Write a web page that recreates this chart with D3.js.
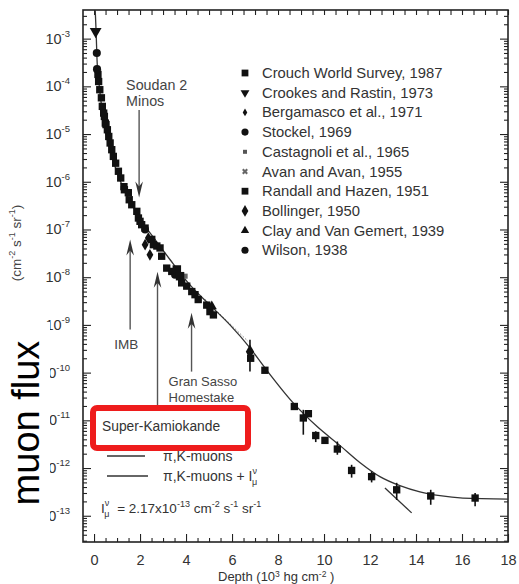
<!DOCTYPE html>
<html>
<head>
<meta charset="utf-8">
<script src="https://cdn.jsdelivr.net/npm/d3@7"></script>
<style>
  html, body { margin: 0; padding: 0; background: #fff; }
  svg { display: block; font-family: Arial, "Liberation Sans", sans-serif; }
</style>
</head>
<body>
<svg id="chart"></svg>
<script>
(function () {

  // ---- data (depth in 10^3 hg cm^-2, flux in cm^-2 s^-1 sr^-1) ----
  var crouch = [
    [0.17, 1.78e-4], [0.20, 1.26e-4], [0.25, 8.5e-5], [0.32, 5.75e-5], [0.36, 3.8e-5],
    [0.42, 2.75e-5], [0.45, 2.34e-5], [0.49, 1.7e-5], [0.52, 1.58e-5], [0.58, 1.23e-5],
    [0.64, 8.9e-6], [0.70, 6.5e-6], [0.77, 4.7e-6], [0.84, 3.4e-6], [0.94, 2.45e-6],
    [1.06, 1.66e-6], [1.16, 1.2e-6], [1.30, 7.9e-7], [1.32, 6.8e-7], [1.49, 5.9e-7],
    [1.53, 4.2e-7], [1.64, 3.3e-7], [1.86, 2.4e-7], [1.93, 1.74e-7], [2.00, 1.48e-7],
    [2.07, 1.26e-7], [2.22, 1.07e-7], [2.51, 6.2e-8], [2.58, 4.8e-8], [2.73, 4.5e-8],
    [2.87, 4.1e-8], [2.94, 2.75e-8], [3.16, 1.55e-8], [3.38, 1.32e-8], [3.81, 7.6e-9],
    [4.03, 6.5e-9], [4.25, 5.0e-9], [4.39, 4.3e-9], [4.53, 3.4e-9], [4.90, 2.6e-9],
    [5.04, 1.9e-9], [5.19, 1.62e-9], [6.81, 2.0e-10], [7.43, 1.12e-10], [8.71, 1.95e-11],
    [9.10, 1.12e-11], [9.32, 1.38e-11], [9.64, 4.8e-12], [10.04, 3.8e-12], [10.58, 2.5e-12],
    [11.20, 8.9e-13], [12.07, 6.6e-13], [13.16, 3.5e-13], [14.64, 2.6e-13], [16.57, 2.35e-13]
  ];
  var crookes    = [[0.07, 1.41e-3]];
  var bergamasco = [[2.36, 6.6e-8], [2.22, 4.8e-8], [2.43, 2.95e-8]];
  var stockel    = [[2.22, 1.0e-7], [3.52, 1.12e-8]];
  var castagnoli = [[3.96, 1.05e-8]];
  var randall    = [[3.60, 1.45e-8], [3.74, 1.05e-8]];
  var bollinger  = [[6.78, 2.75e-10]];
  var clay       = [[5.12, 2.45e-9]];
  var wilson     = [[0.12, 5.0e-4], [0.13, 2.29e-4]];

  // vertical error bars: depth, low, high
  var errDepth = [6.78, 9.10, 9.64, 10.04, 10.58, 11.20, 12.07, 13.16, 14.64, 16.57];
  var errLow   = [1.05e-10, 5.0e-12, 3.5e-12, 3.2e-12, 1.9e-12, 6.3e-13, 5.0e-13, 2.14e-13, 1.7e-13, 1.58e-13];
  var errHigh  = [4.9e-10, 1.66e-11, 5.9e-12, 4.5e-12, 3.6e-12, 1.17e-12, 8.5e-13, 4.9e-13, 3.5e-13, 3.0e-13];

  // pi,K-muons + I_mu^nu curve
  var curveTotal = [
    [0.05, 4.1e-3], [0.09, 1.41e-3], [0.13, 3.6e-4], [0.22, 1.1e-4], [0.35, 3.2e-5],
    [0.48, 1.23e-5], [0.70, 4.7e-6], [0.96, 1.78e-6], [1.26, 7.6e-7], [1.65, 3.3e-7],
    [2.09, 1.45e-7], [2.65, 6.2e-8], [3.30, 2.35e-8], [4.17, 6.9e-9], [5.04, 2.6e-9],
    [5.91, 1.0e-9], [6.78, 3.3e-10], [7.43, 1.26e-10], [8.65, 2.35e-11], [9.70, 7.4e-12],
    [10.70, 2.95e-12], [11.57, 1.29e-12], [12.43, 6.6e-13], [13.30, 4.27e-13],
    [14.17, 3.16e-13], [15.04, 2.63e-13], [16.04, 2.35e-13], [18.0, 2.24e-13]
  ];
  // pi,K-muons only (visible tail)
  var curvePiK = [[12.65, 3.8e-13], [13.81, 1.15e-13]];
  // faint dotted trace
  var dottedTrace = [[4.83, 3.4e-9], [6.70, 4.5e-10]];

  var decadeExps = [-3, -4, -5, -6, -7, -8, -9, -10, -11, -12, -13];
  var xTickVals = [0, 2, 4, 6, 8, 10, 12, 14, 16, 18];

  var legendNames = [
    'Crouch World Survey, 1987', 'Crookes and Rastin, 1973', 'Bergamasco et al., 1971',
    'Stockel, 1969', 'Castagnoli et al., 1965', 'Avan and Avan, 1955',
    'Randall and Hazen, 1951', 'Bollinger, 1950', 'Clay and Van Gemert, 1939', 'Wilson, 1938'
  ];
  var legendSymbols = ['square', 'tridown', 'diamondS', 'circle', 'squareS', 'cross',
    'square', 'hex', 'triup', 'circle'];

  // experiments: depth, arrow tip flux, arrow tail flux
  var expNames = ['Soudan 2', 'IMB', 'Super-Kamiokande', 'Gran Sasso'];
  var expDepth = [1.96, 1.57, 2.76, 4.24];
  var expTip   = [4.7e-7, 6.2e-8, 1.3e-8, 1.8e-9];
  var expTail  = [3.2e-5, 8.0e-10, 1.95e-11, 1.05e-10];

  var width = 519, height = 584;
  var svg = d3.select('#chart').attr('width', width).attr('height', height);

  var x = d3.scaleLinear().domain([-0.48, 18]).range([83, 508]);
  var y = d3.scaleLog().domain([Math.pow(10, -13.55), Math.pow(10, -2.4)]).range([542, 10]);

  var ink = '#222', soft = '#444';

  // ---- axes ----
  var decades = decadeExps.map(function (e) { return Math.pow(10, e); });
  var minors = [];
  for (var e = -14; e <= -3; e++) {
    for (var k = 2; k <= 9; k++) {
      var v = k * Math.pow(10, e);
      if (v >= y.domain()[0] && v <= y.domain()[1]) minors.push(v);
    }
  }
  var xMinor = d3.range(0, 18.01, 0.5).filter(function (d) { return d % 2 !== 0; });

  function styleAxis(g) {
    g.select('.domain').remove();
    g.selectAll('line').attr('stroke', ink).attr('stroke-width', 1.1);
  }

  svg.append('g').attr('transform', 'translate(83,0)')
    .call(d3.axisLeft(y).tickValues(decades).tickSize(-8).tickFormat('')).call(styleAxis);
  svg.append('g').attr('transform', 'translate(83,0)')
    .call(d3.axisLeft(y).tickValues(minors).tickSize(-4).tickFormat('')).call(styleAxis);
  svg.append('g').attr('transform', 'translate(508,0)')
    .call(d3.axisRight(y).tickValues(decades).tickSize(-8).tickFormat('')).call(styleAxis);
  svg.append('g').attr('transform', 'translate(508,0)')
    .call(d3.axisRight(y).tickValues(minors).tickSize(-4).tickFormat('')).call(styleAxis);

  var xAxis = svg.append('g').attr('transform', 'translate(0,542)')
    .call(d3.axisBottom(x).tickValues(xTickVals).tickSize(-8).tickPadding(12.5).tickFormat(d3.format('d')))
    .call(styleAxis);
  xAxis.selectAll('text').attr('font-size', 14.5).attr('fill', '#333')
    .attr('font-family', 'Arial, "Liberation Sans", sans-serif');
  svg.append('g').attr('transform', 'translate(0,542)')
    .call(d3.axisBottom(x).tickValues(xMinor).tickSize(-4).tickFormat('')).call(styleAxis);
  svg.append('g').attr('transform', 'translate(0,10)')
    .call(d3.axisTop(x).tickValues(d3.range(0, 18.01, 0.5)).tickSize(-5).tickFormat('')).call(styleAxis);

  // frame
  svg.append('rect').attr('x', x.range()[0]).attr('y', y.range()[1])
    .attr('width', x.range()[1] - x.range()[0]).attr('height', y.range()[0] - y.range()[1])
    .attr('fill', 'none').attr('stroke', ink).attr('stroke-width', 1.6);

  // y tick labels 10^n
  var yl = svg.append('g').attr('fill', '#333').attr('font-size', 14.5);
  decadeExps.forEach(function (ex) {
    var t = yl.append('text').attr('x', 70).attr('y', y(Math.pow(10, ex)) + 5)
      .attr('text-anchor', 'end');
    t.append('tspan').text('10');
    t.append('tspan').attr('font-size', 9.5).attr('dy', -7).text(String(ex));
  });

  // ---- curves ----
  var line = d3.line().x(function (d) { return x(d[0]); }).y(function (d) { return y(d[1]); })
    .curve(d3.curveMonotoneX);
  svg.append('clipPath').attr('id', 'plotclip').append('rect')
    .attr('x', 83).attr('y', 10).attr('width', 425).attr('height', 532);
  var plot = svg.append('g').attr('clip-path', 'url(#plotclip)');

  plot.append('path').datum(dottedTrace).attr('d', line).attr('fill', 'none')
    .attr('stroke', '#777').attr('stroke-width', 1).attr('stroke-dasharray', '1.5,2');
  plot.append('path').datum(curveTotal).attr('d', line).attr('fill', 'none')
    .attr('stroke', '#333').attr('stroke-width', 1.3);
  plot.append('path').datum(curvePiK).attr('d', line).attr('fill', 'none')
    .attr('stroke', '#333').attr('stroke-width', 1.3);

  // error bars
  plot.selectAll('.err').data(errDepth).join('line').attr('class', 'err')
    .attr('x1', function (d) { return x(d); }).attr('x2', function (d) { return x(d); })
    .attr('y1', function (d, i) { return y(errLow[i]); })
    .attr('y2', function (d, i) { return y(errHigh[i]); })
    .attr('stroke', '#111').attr('stroke-width', 1.6);

  // ---- markers ----
  function symPath(kind, size) {
    var map = {
      square: d3.symbolSquare, squareS: d3.symbolSquare, circle: d3.symbolCircle,
      diamondS: d3.symbolDiamond, tridown: d3.symbolTriangle, triup: d3.symbolTriangle,
      hex: d3.symbolDiamond, cross: d3.symbolCross
    };
    return d3.symbol().type(map[kind]).size(size)();
  }
  function drawSeries(data, kind, size, color) {
    plot.selectAll(null).data(data).join('path')
      .attr('d', symPath(kind, size))
      .attr('transform', function (d) {
        var rot = kind === 'tridown' ? ' rotate(180)' : (kind === 'cross' ? ' rotate(45)' : '');
        return 'translate(' + x(d[0]) + ',' + y(d[1]) + ')' + rot;
      })
      .attr('fill', color || '#111');
  }
  drawSeries(crouch, 'square', 54);
  drawSeries(crookes, 'tridown', 60);
  drawSeries(bergamasco, 'diamondS', 40);
  drawSeries(stockel, 'circle', 48);
  drawSeries(castagnoli, 'squareS', 26, '#666');
  drawSeries(randall, 'square', 72);
  drawSeries(bollinger, 'hex', 60);
  drawSeries(clay, 'triup', 44);
  drawSeries(wilson, 'circle', 52);

  // ---- legend ----
  var leg = svg.append('g');
  legendNames.forEach(function (name, i) {
    var ly = 73 + i * 19.7;
    var kind = legendSymbols[i];
    var size = { square: 46, tridown: 34, diamondS: 18, circle: 40, squareS: 16, cross: 22,
      hex: 40, triup: 30 }[kind];
    var rot = kind === 'tridown' ? ' rotate(180)' : (kind === 'cross' ? ' rotate(45)' : '');
    leg.append('path').attr('d', symPath(kind, size))
      .attr('transform', 'translate(245,' + ly + ')' + rot)
      .attr('fill', kind === 'squareS' ? '#555' : (kind === 'cross' ? '#666' : '#111'));
    leg.append('text').attr('x', 262).attr('y', ly + 5).attr('font-size', 14.8)
      .attr('fill', '#333').text(name);
  });

  // ---- experiment arrows ----
  var ann = svg.append('g');
  function arrow(xp, tail, tip) {
    var dir = tip > tail ? 1 : -1;
    ann.append('line').attr('x1', xp).attr('x2', xp).attr('y1', tail).attr('y2', tip - dir * 8)
      .attr('stroke', '#555').attr('stroke-width', 1.4);
    ann.append('path')
      .attr('d', 'M' + xp + ',' + tip + ' L' + (xp - 3.8) + ',' + (tip - dir * 16) +
        ' L' + xp + ',' + (tip - dir * 11) + ' L' + (xp + 3.8) + ',' + (tip - dir * 16) + 'Z')
      .attr('fill', '#333');
  }
  expDepth.forEach(function (d, i) {
    arrow(x(d), y(expTail[i]), y(expTip[i]));
  });

  function label(lines, lx, ly, fs) {
    var t = ann.append('text').attr('font-size', fs || 13.5).attr('fill', soft);
    lines.forEach(function (s, j) {
      t.append('tspan').attr('x', lx).attr('y', ly + j * 15.5).text(s);
    });
  }
  label(['Soudan 2', 'Minos'], x(expDepth[0]) - 13, 90, 14.3);
  label(['IMB'], x(expDepth[1]) - 16, 349);
  label(['Gran Sasso', 'Homestake'], x(expDepth[3]) - 23, 386, 13);

  // Super-Kamiokande box
  ann.append('rect').attr('x', 93).attr('y', 408).attr('width', 155).attr('height', 40)
    .attr('rx', 4).attr('fill', '#fff').attr('stroke', '#ee1c1c').attr('stroke-width', 6);
  ann.append('text').attr('x', 102).attr('y', 431).attr('font-size', 13.8).attr('fill', '#333')
    .text(expNames[2]);

  // curve legend
  var cl = svg.append('g').attr('font-size', 14).attr('fill', '#333');
  cl.append('line').attr('x1', 107).attr('x2', 145).attr('y1', 456).attr('y2', 456)
    .attr('stroke', '#333').attr('stroke-width', 1.4);
  cl.append('text').attr('x', 163).attr('y', 461).text('\u03c0,K-muons');
  cl.append('line').attr('x1', 107).attr('x2', 148).attr('y1', 476).attr('y2', 476)
    .attr('stroke', '#333').attr('stroke-width', 1.4);
  var t2 = cl.append('text').attr('x', 163).attr('y', 481);
  t2.append('tspan').text('\u03c0,K-muons + I');
  t2.append('tspan').attr('font-size', 9).attr('dy', -7).text('\u03bd');
  t2.append('tspan').attr('font-size', 9).attr('dx', -5).attr('dy', 11).text('\u03bc');

  var f = svg.append('text').attr('x', 101).attr('y', 513).attr('font-size', 13.5).attr('fill', '#333');
  f.append('tspan').text('I');
  f.append('tspan').attr('font-size', 9).attr('dy', -7).text('\u03bd');
  f.append('tspan').attr('font-size', 9).attr('dx', -5).attr('dy', 11).text('\u03bc');
  f.append('tspan').attr('dy', -4).attr('dx', 4).text(' = 2.17x10');
  f.append('tspan').attr('font-size', 9).attr('dy', -6).text('-13');
  f.append('tspan').attr('dy', 6).text(' cm');
  f.append('tspan').attr('font-size', 9).attr('dy', -6).text('-2');
  f.append('tspan').attr('dy', 6).text(' s');
  f.append('tspan').attr('font-size', 9).attr('dy', -6).text('-1');
  f.append('tspan').attr('dy', 6).text(' sr');
  f.append('tspan').attr('font-size', 9).attr('dy', -6).text('-1');

  // ---- axis titles ----
  var xt = svg.append('text').attr('x', 218).attr('y', 581.3).attr('font-size', 13).attr('fill', '#333');
  xt.append('tspan').text('Depth (10');
  xt.append('tspan').attr('font-size', 8.5).attr('dy', -4.5).text('3');
  xt.append('tspan').attr('dy', 4.5).text(' hg cm');
  xt.append('tspan').attr('font-size', 8.5).attr('dy', -4.5).text('-2');
  xt.append('tspan').attr('dy', 4.5).text(' )');

  var yt = svg.append('text').attr('transform', 'translate(21,243) rotate(-90)')
    .attr('text-anchor', 'middle').attr('font-size', 13.5).attr('fill', '#444');
  yt.append('tspan').text('(cm');
  yt.append('tspan').attr('font-size', 9).attr('dy', -6).text('-2');
  yt.append('tspan').attr('dy', 6).text(' s');
  yt.append('tspan').attr('font-size', 9).attr('dy', -6).text('-1');
  yt.append('tspan').attr('dy', 6).text(' sr');
  yt.append('tspan').attr('font-size', 9).attr('dy', -6).text('-1');
  yt.append('tspan').attr('dy', 6).text(')');

  // big "muon flux" overlay label
  svg.append('rect').attr('x', 0).attr('y', 322).attr('width', 50).attr('height', 262).attr('fill', '#fff');
  svg.append('text').attr('transform', 'translate(39,423) rotate(-90)')
    .attr('text-anchor', 'middle').attr('font-size', 38).attr('fill', '#000')
    .text('muon flux');

})();
</script>
</body>
</html>
